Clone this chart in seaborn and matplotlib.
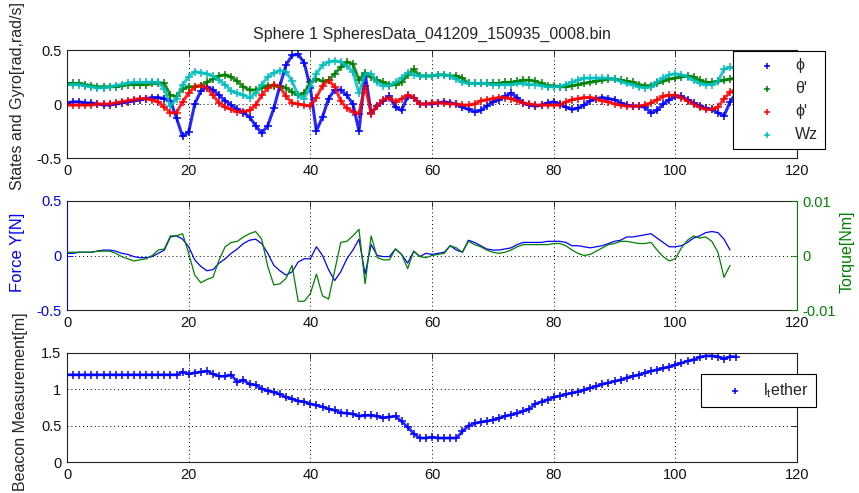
import numpy as np
import pandas as pd
import matplotlib
matplotlib.use("Agg")
import matplotlib.pyplot as plt
import seaborn as sns

# ---------------- data ----------------
time_states = np.arange(0, 111)          # s
phi = [0.01,0.02,0.02,0.01,0.01,0.0,-0.01,-0.01,0.0,0.01,
       0.02,0.03,0.04,0.05,0.06,0.06,0.05,0.03,-0.13,-0.3,
       -0.26,0.0,0.12,0.16,0.13,0.08,0.03,-0.01,-0.05,-0.08,
       -0.12,-0.2,-0.27,-0.2,-0.04,0.17,0.36,0.45,0.46,0.38,
       0.15,-0.25,-0.12,0.05,0.13,0.13,0.08,0.0,-0.25,0.28,
       -0.08,-0.02,0.03,0.07,-0.03,-0.06,0.07,0.06,0.0,0.0,
       0.0,0.01,0.02,0.01,0.0,-0.03,-0.05,-0.07,-0.06,-0.02,
       0.02,0.04,0.07,0.1,0.06,0.01,-0.01,-0.02,-0.01,0.01,
       0.02,0.0,-0.03,-0.05,-0.04,-0.01,0.03,0.05,0.06,0.05,
       0.04,0.01,-0.01,-0.02,-0.02,-0.03,-0.08,-0.06,0.0,0.04,
       0.07,0.07,0.04,0.01,-0.02,-0.04,-0.05,-0.08,-0.11,0.02,
       0.1]
theta_dot = [0.19,0.19,0.19,0.18,0.17,0.16,0.16,0.16,0.16,0.17,
             0.18,0.18,0.18,0.18,0.19,0.19,0.19,0.08,0.07,0.14,
             0.16,0.16,0.17,0.2,0.23,0.26,0.27,0.25,0.21,0.16,
             0.13,0.13,0.15,0.17,0.17,0.16,0.15,0.11,0.08,0.1,
             0.2,0.23,0.21,0.22,0.28,0.34,0.39,0.37,0.22,0.29,
             0.25,0.22,0.2,0.18,0.18,0.2,0.27,0.32,0.26,0.26,
             0.26,0.27,0.27,0.26,0.26,0.24,0.19,0.19,0.19,0.19,
             0.19,0.19,0.2,0.2,0.21,0.22,0.22,0.21,0.19,0.17,
             0.17,0.16,0.16,0.17,0.18,0.19,0.2,0.21,0.22,0.23,
             0.23,0.22,0.21,0.2,0.18,0.17,0.17,0.19,0.21,0.23,
             0.24,0.25,0.26,0.25,0.22,0.2,0.2,0.21,0.22,0.23,
             0.24]
phi_dot = [-0.01,-0.01,-0.01,-0.01,-0.01,0.0,0.0,0.0,0.01,0.02,
           0.03,0.04,0.05,0.05,0.04,0.02,-0.03,-0.08,-0.08,0.02,
           0.1,0.16,0.17,0.15,0.08,0.01,-0.03,-0.05,-0.07,-0.07,
           -0.06,-0.01,0.08,0.15,0.18,0.16,0.07,0.01,0.0,-0.01,
           -0.02,0.06,0.17,0.22,0.16,0.03,-0.04,-0.07,-0.09,0.17,
           -0.09,-0.02,0.04,0.06,0.02,0.05,0.08,0.06,0.0,0.0,
           0.01,0.01,0.01,0.0,0.0,-0.01,-0.01,0.0,0.03,0.04,
           0.05,0.06,0.06,0.05,0.03,0.01,0.0,-0.01,-0.01,-0.01,
           -0.01,-0.01,0.02,0.04,0.05,0.06,0.06,0.05,0.03,0.02,
           0.0,-0.01,-0.02,-0.02,-0.02,-0.01,0.01,0.04,0.07,0.08,
           0.08,0.06,0.03,0.0,-0.03,-0.05,-0.05,-0.03,0.05,0.11,
           0.13]
wz = [0.18,0.18,0.18,0.17,0.16,0.15,0.15,0.16,0.17,0.18,
      0.19,0.2,0.2,0.2,0.2,0.2,0.14,-0.02,0.05,0.18,
      0.25,0.3,0.29,0.28,0.26,0.22,0.18,0.12,0.1,0.08,
      0.06,0.1,0.18,0.25,0.29,0.31,0.3,0.21,0.08,0.05,
      0.17,0.28,0.36,0.39,0.4,0.39,0.35,0.3,0.1,0.28,
      0.28,0.2,0.17,0.17,0.2,0.24,0.29,0.27,0.26,0.26,
      0.26,0.27,0.27,0.26,0.23,0.2,0.19,0.19,0.19,0.19,
      0.18,0.18,0.18,0.18,0.19,0.19,0.18,0.18,0.17,0.16,
      0.16,0.16,0.18,0.2,0.22,0.24,0.24,0.24,0.24,0.24,
      0.23,0.21,0.19,0.18,0.16,0.15,0.16,0.2,0.24,0.27,
      0.28,0.27,0.25,0.22,0.19,0.18,0.18,0.21,0.32,0.34,
      0.33]

time_ctrl = np.arange(0, 110)            # s
force_y = [0.02,0.02,0.03,0.03,0.03,0.04,0.05,0.05,0.04,0.02,
           0.01,-0.01,-0.02,-0.02,-0.01,0.02,0.05,0.17,0.18,0.15,
           0.08,-0.04,-0.1,-0.14,-0.13,-0.07,-0.03,0.02,0.06,0.11,
           0.14,0.15,0.11,0.02,-0.09,-0.14,-0.18,-0.15,-0.06,-0.03,
           -0.03,0.08,0.0,-0.13,-0.23,-0.15,-0.03,0.05,0.15,-0.17,
           0.1,0.0,-0.01,-0.01,0.06,0.01,-0.07,0.04,-0.01,0.02,
           0.01,0.02,0.03,0.09,0.05,0.03,0.14,0.12,0.09,0.06,
           0.05,0.05,0.06,0.07,0.1,0.12,0.12,0.12,0.12,0.13,
           0.13,0.13,0.12,0.09,0.09,0.08,0.07,0.08,0.09,0.11,
           0.13,0.14,0.17,0.17,0.18,0.19,0.2,0.16,0.12,0.08,
           0.08,0.09,0.12,0.16,0.18,0.21,0.22,0.21,0.15,0.05]
torque = [0.0006,0.0006,0.0006,0.0006,0.0006,0.0008,0.0008,0.0008,0.0004,-0.0002,
          -0.0006,-0.001,-0.0008,-0.0006,0.0,0.001,0.0012,0.0036,0.0036,0.004,
          0.0004,-0.0036,-0.005,-0.0044,-0.004,-0.0008,0.0016,0.0024,0.0026,0.0034,
          0.004,0.0044,0.003,-0.002,-0.0054,-0.0052,-0.0042,-0.0018,-0.0084,-0.0084,
          -0.007,-0.0034,-0.0074,-0.008,-0.0028,0.0024,0.0026,0.0036,0.0048,-0.0052,
          0.0036,-0.0004,-0.0008,-0.0008,0.0012,0.0002,-0.0024,0.0008,-0.0002,-0.0004,
          0.0,0.0002,0.0004,0.0018,0.0014,0.0006,0.0026,0.002,0.0016,0.001,
          0.0006,0.0004,0.0006,0.001,0.0016,0.002,0.002,0.002,0.002,0.002,
          0.0022,0.0022,0.0018,0.001,0.0004,0.0,0.0002,0.0008,0.0014,0.002,
          0.0022,0.0026,0.0026,0.0024,0.0022,0.0022,0.0024,0.001,-0.0002,-0.001,
          -0.0006,0.0014,0.0028,0.0036,0.0032,0.0034,0.0026,0.0006,-0.004,-0.0018]

beacon = [1.2,1.2,1.2,1.2,1.2,1.2,1.2,1.2,1.2,1.2,
          1.2,1.2,1.2,1.2,1.2,1.2,1.2,1.2,1.2,1.24,
          1.21,1.23,1.24,1.25,1.21,1.18,1.18,1.2,1.1,1.13,
          1.07,1.06,1.01,0.98,0.96,0.93,0.89,0.87,0.84,0.83,
          0.8,0.78,0.76,0.73,0.71,0.68,0.67,0.66,0.63,0.64,
          0.64,0.63,0.61,0.62,0.63,0.56,0.48,0.39,0.33,0.33,
          0.34,0.33,0.33,0.33,0.33,0.42,0.5,0.53,0.55,0.56,
          0.58,0.6,0.63,0.65,0.67,0.7,0.73,0.8,0.83,0.86,
          0.89,0.91,0.93,0.95,0.97,0.99,1.02,1.04,1.07,1.09,
          1.11,1.13,1.16,1.18,1.2,1.23,1.25,1.27,1.29,1.31,
          1.34,1.36,1.39,1.41,1.44,1.46,1.46,1.45,1.42,1.45,
          1.45]

state_labels = ["\u03d5", "\u03b8'", "\u03d5'", "Wz"]
x_ticks = [0, 20, 40, 60, 80, 100, 120]
title_text = "Sphere 1 SpheresData_041209_150935_0008.bin"

# ---------------- style ----------------
sns.set_theme(style="white")
plt.rcParams["font.family"] = ["Liberation Sans", "DejaVu Sans"]
plt.rcParams["axes.unicode_minus"] = False
plt.rcParams["mathtext.fontset"] = "custom"
plt.rcParams["mathtext.rm"] = "Liberation Sans"

BLUE = "#0000ff"
GREEN = "#008000"
RED = "#ff0000"
CYAN = "#00bfbf"
TICK_FS = 10.5

fig = plt.figure(figsize=(8.59, 4.93), dpi=100)
W, H = 859, 493
def rect(x0, y0, x1, y1):
    return [x0 / W, 1 - y1 / H, (x1 - x0) / W, (y1 - y0) / H]

ax1 = fig.add_axes(rect(67, 50, 797, 158))
ax2 = fig.add_axes(rect(67, 201, 797, 310))
ax3 = fig.add_axes(rect(67, 353, 797, 462))

def style(ax):
    ax.set_facecolor("white")
    for s in ax.spines.values():
        s.set_color("#222222")
        s.set_linewidth(0.8)
        s.set_visible(True)
    ax.tick_params(direction="in", top=True, right=True, length=4, width=0.6,
                   labelsize=TICK_FS, pad=4, colors="#111111")
    ax.grid(True, linestyle=(0, (1, 3)), color="black", linewidth=0.7)
    ax.set_xlim(0, 120)
    ax.set_xticks(x_ticks)
    ax.set_xticklabels([str(v) for v in x_ticks])
    ax.set_xlabel("")

LEG_KW = dict(bbox_transform=fig.transFigure, frameon=True, fancybox=False,
              edgecolor="black", framealpha=1, fontsize=11.5, borderpad=0.45,
              handlelength=3.3, handletextpad=0.15, borderaxespad=0,
              scatterpoints=1)

# ---- top panel ----
states = pd.DataFrame({"t": time_states, "phi": phi, "theta_dot": theta_dot,
                       "phi_dot": phi_dot, "wz": wz})
handles = []
for col, c, lab in zip(["phi", "theta_dot", "phi_dot", "wz"],
                       [BLUE, GREEN, RED, CYAN], state_labels):
    sns.lineplot(data=states, x="t", y=col, ax=ax1, color=c, linewidth=2.2,
                 alpha=0.85, legend=False)
    sns.scatterplot(data=states, x="t", y=col, ax=ax1, marker="+", color=c,
                    s=36, linewidth=1.1, label=lab, legend=False)
style(ax1)
ax1.set_ylim(-0.5, 0.5)
ax1.set_yticks([-0.5, 0, 0.5])
ax1.set_yticklabels(["-0.5", "0", "0.5"])
ax1.set_title(title_text, fontsize=11.5, pad=8)
ax1.set_ylabel("States and Gyro[rad,rad/s]", fontsize=11.5)
ax1.yaxis.set_label_coords(-0.058, 0.575)
h, l = ax1.get_legend_handles_labels()
leg1 = ax1.legend(h, l, loc="upper left", bbox_to_anchor=(733 / W, 1 - 51 / H),
                  labelspacing=0.5, markerscale=0.75, **LEG_KW)
leg1.get_frame().set_linewidth(0.8)

# ---- middle panel ----
ctrl = pd.DataFrame({"t": time_ctrl, "force": force_y, "torque": torque})
sns.lineplot(data=ctrl, x="t", y="force", ax=ax2, color=BLUE, linewidth=0.9)
style(ax2)
ax2.set_ylim(-0.5, 0.5)
ax2.set_yticks([-0.5, 0, 0.5])
ax2.set_yticklabels(["-0.5", "0", "0.5"])
ax2.tick_params(axis="y", right=False, colors=BLUE)
ax2.tick_params(axis="x", colors="#111111")
ax2.spines["left"].set_color(BLUE)
ax2.spines["right"].set_visible(False)
ax2.set_ylabel("Force Y[N]", fontsize=12, color=BLUE)
ax2.yaxis.set_label_coords(-0.058, 0.53)

ax2b = ax2.twinx()
sns.lineplot(data=ctrl, x="t", y="torque", ax=ax2b, color=GREEN, linewidth=0.9)
ax2b.set_ylim(-0.01, 0.01)
ax2b.set_yticks([-0.01, 0, 0.01])
ax2b.set_yticklabels(["-0.01", "0", "0.01"])
ax2b.tick_params(axis="y", direction="in", length=4, width=0.6, colors=GREEN,
                 labelsize=TICK_FS, pad=4)
for k in ["left", "top", "bottom"]:
    ax2b.spines[k].set_visible(False)
ax2b.spines["right"].set_color(GREEN)
ax2b.spines["right"].set_linewidth(0.8)
ax2b.grid(False)
ax2b.set_ylabel("Torque[Nm]", fontsize=11.5, color=GREEN)
ax2b.yaxis.set_label_coords(1.058, 0.53)
ax2b.set_xlim(0, 120)
ax2b.set_xlabel("")

# ---- bottom panel ----
bdf = pd.DataFrame({"t": time_states, "beacon": beacon})
sns.lineplot(data=bdf, x="t", y="beacon", ax=ax3, color=BLUE, linewidth=2.0,
             alpha=0.85, legend=False)
sns.scatterplot(data=bdf, x="t", y="beacon", ax=ax3, marker="+", color=BLUE,
                s=40, linewidth=1.1, label=r"$\mathregular{l_tether}$", legend=False)
style(ax3)
ax3.set_ylim(0, 1.5)
ax3.set_yticks([0, 0.5, 1, 1.5])
ax3.set_yticklabels(["0", "0.5", "1", "1.5"])
ax3.set_ylabel("Beacon Measurement[m]", fontsize=11.5)
ax3.yaxis.set_label_coords(-0.053, 0.55)
h, l = ax3.get_legend_handles_labels()
leg3 = ax3.legend(h, l, loc="upper left", bbox_to_anchor=(701 / W, 1 - 374 / H),
                  markerscale=0.65, **LEG_KW)
leg3.get_frame().set_linewidth(0.8)

fig.savefig("out.png", dpi=100)
